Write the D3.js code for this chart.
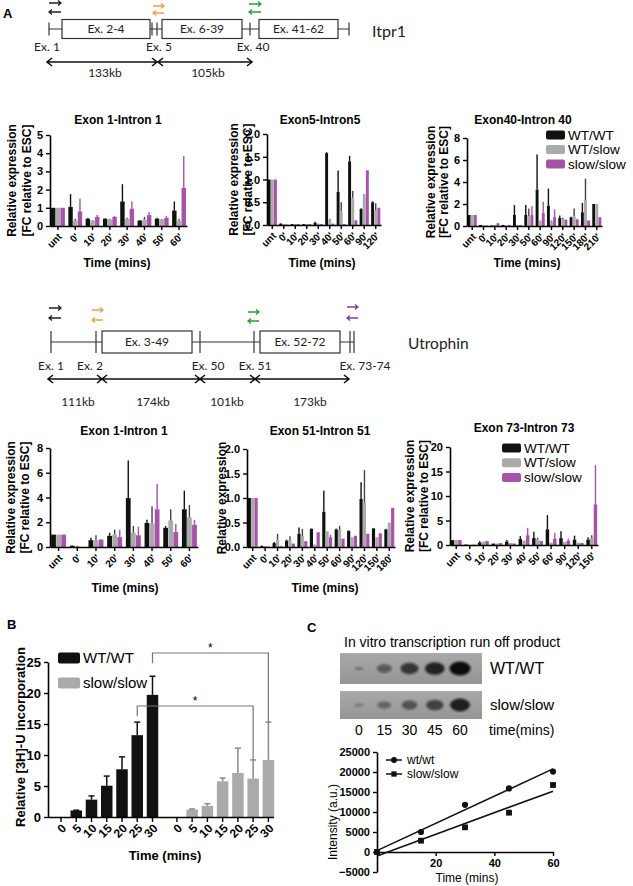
<!DOCTYPE html>
<html><head><meta charset="utf-8">
<script src="https://cdn.jsdelivr.net/npm/d3@7"></script>
<style>body{margin:0;background:#fff}svg{display:block}</style>
</head><body>
<script>
// ================= DATA =================
const seriesNames = ["WT/WT", "WT/slow", "slow/slow"];

// Panel A – Itpr1 (each entry: [mean, top of error bar])
const itprE1Cats = ["unt","0'","10'","20'","30'","40'","50'","60'"];
const itprE1WT   = [[1.0,1.0],[1.05,1.75],[0.4,0.45],[0.4,0.42],[1.35,2.3],[0.3,0.33],[0.4,0.45],[0.85,1.35]];
const itprE1WS   = [[1.0,1.0],[0.3,0.4],[0.3,0.33],[0.35,0.4],[0.4,0.45],[0.35,0.5],[0.35,0.38],[0.3,0.4]];
const itprE1SS   = [[1.0,1.0],[0.8,1.5],[0.5,0.6],[0.5,0.55],[0.95,1.35],[0.6,0.75],[0.45,0.55],[2.1,3.85]];

const itprE5Cats = ["unt","0'","10'","20'","30'","40'","50'","60'","90'","120'"];
const itprE5WT   = [[1.0,1.0],[0.03,0.04],[0.02,0.02],[0.02,0.02],[0.05,0.07],[1.58,1.6],[0.73,1.2],[1.4,1.52],[0.35,0.37],[0.5,0.52]];
const itprE5WS   = [[1.0,1.0],[0.02,0.02],[0.02,0.02],[0.02,0.02],[0.03,0.03],[0.12,0.14],[0.3,0.5],[0.6,0.75],[0.67,0.68],[0.33,0.48]];
const itprE5SS   = [[1.0,1.0],[0.01,0.01],[0.02,0.02],[0.02,0.02],[0.02,0.02],[0.03,0.03],[0.02,0.02],[0.1,0.11],[1.2,1.2],[0.38,0.38]];

const itprE40Cats = ["unt","0'","10'","20'","30'","50'","60'","90'","120'","150'","180'","210'"];
const itprE40WT   = [[1,1],[0.1,0.1],[0.05,0.05],[0.1,0.1],[1.0,1.9],[1.0,1.9],[3.3,6.5],[1.85,3.4],[0.75,0.95],[0.8,0.85],[1.25,2.1],[2.0,2.0]];
const itprE40WS   = [[1,1],[0.05,0.05],[0.1,0.1],[0.05,0.05],[0.1,0.1],[0.9,1.6],[0.5,0.5],[0.4,0.5],[0.6,0.75],[0.9,1.6],[2.35,4.3],[2.0,2.0]];
const itprE40SS   = [[1,1],[0.05,0.05],[0.25,0.3],[0.1,0.1],[0.1,0.1],[1.0,1.8],[1.2,2.2],[0.8,1.5],[0.55,0.6],[0.6,0.65],[0.5,0.5],[0.8,0.8]];

// Panel A – Utrophin
const utrE1Cats = ["unt","0'","10'","20'","30'","40'","50'","60'"];
const utrE1WT   = [[1,1],[0.1,0.15],[0.55,0.75],[0.9,1.15],[3.95,7.0],[1.95,2.2],[1.55,1.7],[3.05,4.55]];
const utrE1WS   = [[1,1],[0.05,0.1],[0.55,0.95],[1.0,1.4],[1.15,1.7],[1.9,3.3],[2.15,3.05],[2.4,3.4]];
const utrE1SS   = [[1,1],[0,0],[0.6,0.65],[0.8,1.4],[0.95,1.65],[3.05,5.1],[1.2,1.85],[1.8,2.2]];

const utrE51Cats = ["unt","0'","10'","20'","30'","40'","50'","60'","90'","120'","150'","180'"];
const utrE51WT   = [[1,1],[0.02,0.03],[0.08,0.1],[0.13,0.15],[0.27,0.4],[0.37,0.38],[0.72,1.15],[0.36,0.38],[0.33,0.34],[0.98,1.32],[0.38,0.39],[0.36,0.37]];
const utrE51WS   = [[1,1],[0.02,0.02],[0.15,0.27],[0.15,0.22],[0.22,0.37],[0.05,0.05],[0.32,0.32],[0.35,0.43],[0.2,0.2],[0.9,1.57],[0.2,0.2],[0.5,0.5]];
const utrE51SS   = [[1,1],[0.01,0.01],[0.02,0.02],[0.07,0.07],[0.12,0.12],[0.3,0.3],[0.2,0.25],[0.17,0.17],[0.23,0.23],[0.27,0.27],[0.28,0.28],[0.8,0.8]];

const utrE73Cats = ["unt","0'","10'","20'","30'","40'","50'","60'","90'","120'","150'"];
const utrE73WT   = [[1,1],[0.1,0.1],[0.5,0.8],[0.3,0.3],[0.7,1.0],[1.2,1.8],[1.4,2.7],[3.2,6.1],[1.4,2.8],[1.1,1.9],[1.1,1.6]];
const utrE73WS   = [[1,1],[0,0],[0.7,0.7],[0.3,0.3],[0.4,0.4],[0.9,0.9],[1.2,1.5],[0.5,0.5],[0.6,0.6],[0.5,0.5],[1.5,2.0]];
const utrE73SS   = [[1,1],[0.05,0.05],[0.8,0.8],[0.4,0.4],[0.3,0.3],[2.0,3.5],[0.8,0.8],[1.3,2.5],[0.9,1.3],[0.4,0.4],[8.3,16.3]];

// Panel B
const bTimes   = ["0","5","10","15","20","25","30"];
const bWT      = [0, 1.05, 2.8, 5.05, 7.7, 13.2, 19.7];
const bWTErr   = [0, 1.1, 3.4, 6.6, 9.7, 15.3, 22.7];
const bSlow    = [0, 1.2, 1.8, 5.75, 7.1, 6.2, 9.2];
const bSlowErr = [0, 1.3, 2.15, 6.3, 11.1, 9.2, 15.3];
const bYTicks  = [0, 5, 10, 15, 20, 25];

// Panel C
const cTimes   = [0, 15, 30, 45, 60];
const cWT      = [0, 5000, 11800, 15900, 20100];
const cSlow    = [0, 2830, 6170, 9830, 16750];
const cYTicks  = [-5000, 0, 5000, 10000, 15000, 20000, 25000];
const cXTicks  = [20, 40, 60];

// ================= RENDER =================
const F = "'Liberation Sans', Arial, Helvetica, sans-serif";
const FD = "Lato, 'Open Sans', sans-serif";
const svg = d3.select("body").append("svg").attr("width",633).attr("height",886)
  .style("font-family",F);

const barColors = ["#111111","#aaaaaa","#a653a8"];
const errColors = ["#111111","#444444","#a653a8"];

function styleAxis(sel, fs){
  sel.select(".domain").attr("stroke","#000").attr("stroke-width",1.6);
  sel.selectAll(".tick line").attr("stroke","#000").attr("stroke-width",1.4);
  sel.selectAll(".tick text").attr("fill","#000").style("font-size",fs+"px").style("font-weight","bold").style("font-family",F);
}

function barChart(o){
  const g = svg.append("g");
  const x = d3.scaleBand().domain(o.cats).range([o.x0,o.x1]).paddingInner(0.2).paddingOuter(0.06);
  const xs = d3.scaleBand().domain([0,1,2]).range([0,x.bandwidth()]).paddingInner(0.06);
  const y = d3.scaleLinear().domain([0,o.max]).range([o.yb,o.yt]);
  o.series.forEach((s,si)=>{
    g.append("g").selectAll("rect").data(s).join("rect")
      .attr("x",(d,i)=>x(o.cats[i])+xs(si)).attr("width",xs.bandwidth())
      .attr("y",d=>y(d[0])).attr("height",d=>y(0)-y(d[0])).attr("fill",barColors[si]);
    g.append("g").selectAll("line").data(s.map((d,i)=>({d,i})).filter(e=>e.d[1]>e.d[0])).join("line")
      .attr("x1",e=>x(o.cats[e.i])+xs(si)+xs.bandwidth()/2).attr("x2",e=>x(o.cats[e.i])+xs(si)+xs.bandwidth()/2)
      .attr("y1",e=>y(e.d[0])).attr("y2",e=>y(e.d[1]))
      .attr("stroke",errColors[si]).attr("stroke-width",1.4);
  });
  const ax = g.append("g").attr("transform",`translate(0,${o.yb})`)
    .call(d3.axisBottom(x).tickSize(4).tickSizeOuter(0));
  styleAxis(ax,10);
  ax.selectAll(".tick text").attr("y",0).attr("dy","0.35em")
    .attr("transform","translate(2,9) rotate(-45)").style("text-anchor","end");
  const ay = g.append("g").attr("transform",`translate(${o.x0},0)`)
    .call(d3.axisLeft(y).tickValues(o.ticks).tickSize(4).tickSizeOuter(0).tickFormat(o.fmt));
  styleAxis(ay,11);
  g.append("text").attr("x",o.tx).attr("y",o.ty).attr("text-anchor","middle")
    .style("font-size","12px").style("font-weight","bold").text(o.title);
  if(o.xlab) g.append("text").attr("x",o.xlab[0]).attr("y",o.xlab[1]).attr("text-anchor","middle")
    .style("font-size","12px").style("font-weight","bold").text("Time (mins)");
  const ymid = (o.yb+o.yt)/2;
  o.ylabs.forEach(([lx,txt])=>{
    g.append("text").attr("transform",`translate(${lx},${ymid}) rotate(-90)`).attr("text-anchor","middle")
      .attr("dy","0.35em").style("font-size","12px").style("font-weight","bold").text(txt);
  });
  if(o.legend){
    const [lx,ly,step] = o.legend;
    seriesNames.forEach((n,i)=>{
      g.append("rect").attr("x",lx).attr("y",ly+i*step-4.5).attr("width",19).attr("height",9)
        .attr("rx",2).attr("fill",barColors[i]);
      g.append("text").attr("x",lx+22).attr("y",ly+i*step).attr("dy","0.35em")
        .style("font-size","13.5px").text(n);
    });
  }
}

const YL1 = "Relative expression", YL2 = "[FC relative to ESC]";
barChart({cats:itprE1Cats, series:[itprE1WT,itprE1WS,itprE1SS], x0:50,x1:187,yb:226,yt:135,max:5,
  ticks:[0,1,2,3,4,5], fmt:d3.format("d"), title:"Exon 1-Intron 1", tx:118, ty:124,
  xlab:[117,267], ylabs:[[12,YL1],[27,YL2]]});
barChart({cats:itprE5Cats, series:[itprE5WT,itprE5WS,itprE5SS], x0:267,x1:381,yb:225,yt:134,max:2,
  ticks:[0,0.5,1,1.5,2], fmt:d3.format(".1f"), title:"Exon5-Intron5", tx:320, ty:124,
  xlab:[322,267], ylabs:[[234,YL1],[248,YL2]]});
barChart({cats:itprE40Cats, series:[itprE40WT,itprE40WS,itprE40SS], x0:467,x1:602,yb:226,yt:138,max:8,
  ticks:[0,2,4,6,8], fmt:d3.format("d"), title:"Exon40-Intron 40", tx:523, ty:124,
  xlab:[527,267], ylabs:[[431,YL1],[444,YL2]], legend:[546,135,14.5]});

barChart({cats:utrE1Cats, series:[utrE1WT,utrE1WS,utrE1SS], x0:50,x1:198,yb:547,yt:448,max:8,
  ticks:[0,2,4,6,8], fmt:d3.format("d"), title:"Exon 1-Intron 1", tx:124, ty:435,
  xlab:[125,592], ylabs:[[11,YL1],[25,YL2]]});
barChart({cats:utrE51Cats, series:[utrE51WT,utrE51WS,utrE51SS], x0:247,x1:395,yb:547,yt:449,max:2,
  ticks:[0,0.5,1,1.5,2], fmt:d3.format(".1f"), title:"Exon 51-Intron 51", tx:320, ty:435,
  xlab:[325,592], ylabs:[[222,YL1]]});
barChart({cats:utrE73Cats, series:[utrE73WT,utrE73WS,utrE73SS], x0:450,x1:598,yb:545,yt:447,max:20,
  ticks:[0,5,10,15,20], fmt:d3.format("d"), title:"Exon 73-Intron 73", tx:524, ty:432,
  xlab:null, ylabs:[[410,YL1],[424,YL2]], legend:[502,448,14.7]});

// ---------- Gene diagrams ----------
function primer(x1,x2,y1,y2,color){
  const g = svg.append("g").attr("stroke",color).attr("stroke-width",1.3).attr("fill","none");
  g.append("path").attr("d",`M${x1},${y1}H${x2}M${x2-3},${y1-2.5}L${x2},${y1}L${x2-3},${y1+2.5}`);
  g.append("path").attr("d",`M${x2},${y2}H${x1}M${x1+3},${y2-2.5}L${x1},${y2}L${x1+3},${y2+2.5}`);
}
function dblArrow(x1,x2,y){
  svg.append("path").attr("d",`M${x1},${y}H${x2}M${x1+5},${y-4}L${x1},${y}L${x1+5},${y+4}M${x2-5},${y-4}L${x2},${y}L${x2-5},${y+4}`)
    .attr("stroke","#111").attr("stroke-width",1.6).attr("fill","none");
}
function gene(d){
  const g = svg.append("g");
  g.append("line").attr("x1",d.start).attr("x2",d.end).attr("y1",d.y).attr("y2",d.y).attr("stroke","#333").attr("stroke-width",1.2);
  d.ticks.forEach(t=>g.append("line").attr("x1",t).attr("x2",t).attr("y1",d.y-d.th).attr("y2",d.y+d.th).attr("stroke","#333").attr("stroke-width",1.2));
  d.boxes.forEach(b=>{
    g.append("rect").attr("x",b[0]).attr("y",d.y-d.bh).attr("width",b[1]-b[0]).attr("height",2*d.bh)
      .attr("fill","#fff").attr("stroke","#333").attr("stroke-width",1.2);
    g.append("text").attr("x",(b[0]+b[1])/2).attr("y",d.y).attr("dy","0.36em").attr("text-anchor","middle")
      .style("font-family",FD).style("font-size","12px").attr("fill","#222").text(b[2]);
  });
  d.labels.forEach(l=>g.append("text").attr("x",l[0]).attr("y",d.labY).attr("text-anchor","middle")
      .style("font-family",FD).style("font-size","12px").attr("fill","#222").text(l[1]));
  d.kb.forEach(k=>{
    dblArrow(k[0],k[1],d.arrY);
    g.append("text").attr("x",k[2]).attr("y",d.kbY).attr("text-anchor","middle")
      .style("font-family",FD).style("font-size","12px").attr("fill","#222").text(k[3]);
  });
  d.primers.forEach(p=>primer(...p));
  g.append("text").attr("x",d.name[0]).attr("y",d.name[1]).style("font-family",FD).style("font-size",d.name[3])
    .attr("fill","#222").text(d.name[2]);
}

gene({start:49,end:349,y:29,th:6.5,bh:9.5,ticks:[49,152,157,250,349],
  boxes:[[62,150,"Ex. 2-4"],[162,242,"Ex. 6-39"],[259,338,"Ex. 41-62"]],
  labels:[[47,"Ex. 1"],[159,"Ex. 5"],[253,"Ex. 40"]], labY:51,
  arrY:62, kbY:77, kb:[[47,157,105,"133kb"],[158,252,208,"105kb"]],
  primers:[[49,61,3,12,"#222"],[153,164,6,13,"#f0a048"],[249,261,4,12,"#2f9a3c"]],
  name:[372,37,"Itpr1","16px"]});

gene({start:51,end:354,y:342,th:11,bh:11,ticks:[51,96,200,254,350,354],
  boxes:[[102,192,"Ex. 3-49"],[260,340,"Ex. 52-72"]],
  labels:[[51,"Ex. 1"],[90,"Ex. 2"],[208,"Ex. 50"],[255,"Ex. 51"],[365,"Ex. 73-74"]], labY:370,
  arrY:379, kbY:406, kb:[[48,102,78,"111kb"],[102,200,153,"174kb"],[200,255,227,"101kb"],[255,349,310,"173kb"]],
  primers:[[49,61,308,318,"#222"],[92,103,310,320,"#f0a048"],[248,259,312,321,"#2f9a3c"],[347,358,307,318,"#7d3f9e"]],
  name:[408,349,"Utrophin","15.5px"]});

// panel letters
[["A",3,18],["B",7,629],["C",307,632]].forEach(([t,x,y])=>
  svg.append("text").attr("x",x).attr("y",y).style("font-size","13px").style("font-weight","bold").text(t));

// ---------- Panel B ----------
{
  const g = svg.append("g");
  const pos = d3.scaleLinear().domain([0,13.6]).range([61,268.4]);
  const yB = d3.scaleLinear().domain([0,25]).range([817,662]);
  const bw = 11.5;
  const groups = [
    {vals:bWT, err:bWTErr, off:0, color:"#111111", ecol:"#111111"},
    {vals:bSlow, err:bSlowErr, off:7.6, color:"#aaaaaa", ecol:"#8a8a8a"}];
  groups.forEach(gr=>{
    g.append("g").selectAll("rect").data(gr.vals).join("rect")
      .attr("x",(d,i)=>pos(gr.off+i)-bw/2).attr("width",bw)
      .attr("y",d=>yB(d)).attr("height",d=>yB(0)-yB(d)).attr("fill",gr.color);
    const e = g.append("g").attr("stroke",gr.ecol).attr("stroke-width",1.5);
    e.selectAll("line.v").data(gr.err).join("line").attr("class","v")
      .attr("x1",(d,i)=>pos(gr.off+i)).attr("x2",(d,i)=>pos(gr.off+i))
      .attr("y1",(d,i)=>yB(gr.vals[i])).attr("y2",d=>yB(d));
    e.selectAll("line.c").data(gr.err.map((d,i)=>({d,i})).filter(o=>o.d>0)).join("line").attr("class","c")
      .attr("x1",o=>pos(gr.off+o.i)-3).attr("x2",o=>pos(gr.off+o.i)+3)
      .attr("y1",o=>yB(o.d)).attr("y2",o=>yB(o.d));
  });
  // x axis
  const xs = bTimes.map((t,i)=>({t,p:pos(i)})).concat(bTimes.map((t,i)=>({t,p:pos(7.6+i)})));
  g.append("line").attr("x1",48).attr("x2",pos(13.6)+bw/2).attr("y1",817.5).attr("y2",817.5).attr("stroke","#000").attr("stroke-width",1.6);
  g.selectAll("line.xt").data(xs).join("line").attr("class","xt").attr("x1",d=>d.p).attr("x2",d=>d.p)
    .attr("y1",817.5).attr("y2",822).attr("stroke","#000").attr("stroke-width",1.4);
  g.selectAll("text.xt").data(xs).join("text").attr("class","xt")
    .attr("transform",d=>`translate(${d.p+3},${826}) rotate(-45)`).attr("text-anchor","end").attr("dy","0.35em")
    .style("font-size","12px").style("font-weight","bold").text(d=>d.t);
  const ay = g.append("g").attr("transform","translate(48,0)")
    .call(d3.axisLeft(yB).tickValues(bYTicks).tickSize(4).tickSizeOuter(0));
  styleAxis(ay,13);
  g.append("text").attr("transform","translate(20,737) rotate(-90)").attr("text-anchor","middle").attr("dy","0.35em")
    .style("font-size","13px").style("font-weight","bold").text("Relative [3H]-U incorporation");
  g.append("text").attr("x",165).attr("y",860).attr("text-anchor","middle")
    .style("font-size","13px").style("font-weight","bold").text("Time (mins)");
  // legend
  [["WT/WT","#111111",658],["slow/slow","#aaaaaa",683]].forEach(([t,c,yy])=>{
    g.append("rect").attr("x",58).attr("y",yy-5.5).attr("width",22).attr("height",11).attr("rx",2).attr("fill",c);
    g.append("text").attr("x",83).attr("y",yy).attr("dy","0.35em").style("font-size","15px").text(t);
  });
  // significance brackets
  const br = g.append("g").attr("stroke","#777").attr("stroke-width",1.2).attr("fill","none");
  br.append("path").attr("d",`M${pos(6)},${yB(bWTErr[6])-13}V653H${pos(13.6)}V${yB(bSlowErr[6])}`);
  br.append("path").attr("d",`M${pos(5)},${yB(bWTErr[5])-6}V706H${pos(12.6)}V${yB(bSlowErr[5])}`);
  g.append("text").attr("x",(pos(6)+pos(13.6))/2).attr("y",652).attr("text-anchor","middle").style("font-size","12px").text("*");
  g.append("text").attr("x",(pos(5)+pos(12.6))/2).attr("y",705).attr("text-anchor","middle").style("font-size","12px").text("*");
}

// ---------- Panel C ----------
{
  const g = svg.append("g");
  g.append("text").attr("x",344).attr("y",647).style("font-size","14px").text("In vitro transcription run off product");
  const defs = svg.append("defs");
  defs.append("filter").attr("id","blur").append("feGaussianBlur").attr("stdDeviation",1.3);
  const gr = defs.append("linearGradient").attr("id","gel").attr("x1",0).attr("x2",0).attr("y1",0).attr("y2",1);
  gr.append("stop").attr("offset",0).attr("stop-color","#a9a9a9");
  gr.append("stop").attr("offset",1).attr("stop-color","#959595");
  const lane = d3.scalePoint().domain(cTimes).range([359,460]);
  const rx = d3.scaleSqrt().domain([0,20100]).range([4.5,10.5]);
  const ry = d3.scaleSqrt().domain([0,20100]).range([1.3,7]);
  const op = d3.scaleLinear().domain([0,20100]).range([0.35,1]);
  [[cWT,653,684,"WT/WT"],[cSlow,691,719,"slow/slow"]].forEach(([vals,y0,y1,lab])=>{
    g.append("rect").attr("x",340).attr("y",y0).attr("width",142).attr("height",y1-y0).attr("fill","url(#gel)");
    g.append("g").attr("filter","url(#blur)").selectAll("ellipse").data(vals).join("ellipse")
      .attr("cx",(d,i)=>lane(cTimes[i])).attr("cy",(y0+y1)/2).attr("rx",d=>rx(d)).attr("ry",d=>ry(d))
      .attr("fill","#111").attr("opacity",d=>op(d));
    g.append("text").attr("x",490).attr("y",(y0+y1)/2).attr("dy","0.35em").style("font-size",lab==="WT/WT"?"16px":"15px").text(lab);
  });
  g.selectAll("text.lane").data(cTimes).join("text").attr("class","lane")
    .attr("x",d=>lane(d)).attr("y",735).attr("text-anchor","middle").style("font-size","14px").text(d=>d);
  g.append("text").attr("x",489).attr("y",735).style("font-size","14px").text("time(mins)");

  const x = d3.scaleLinear().domain([0,60]).range([377,553]);
  const y = d3.scaleLinear().domain([-5000,25000]).range([872,752]);
  const ax = g.append("g").attr("transform",`translate(0,${y(0)})`)
    .call(d3.axisBottom(x).tickValues(cXTicks).tickSize(4).tickSizeOuter(0));
  styleAxis(ax,11);
  const ay = g.append("g").attr("transform",`translate(${x(0)},0)`)
    .call(d3.axisLeft(y).tickValues(cYTicks).tickSize(4).tickSizeOuter(0).tickFormat(d3.format("d")));
  styleAxis(ay,11);
  g.append("text").attr("x",467).attr("y",882).attr("text-anchor","middle").style("font-size","12px").text("Time (mins)");
  g.append("text").attr("transform",`translate(333,822) rotate(-90)`).attr("text-anchor","middle").attr("dy","0.35em")
    .style("font-size","12px").text("Intensity (a.u.)");
  // least-squares fit lines
  function fit(xs, ys){
    const mx=d3.mean(xs), my=d3.mean(ys);
    const b=d3.sum(xs,(v,i)=>(v-mx)*(ys[i]-my))/d3.sum(xs,v=>(v-mx)**2);
    return [b, my-b*mx];
  }
  [[cWT,"circle"],[cSlow,"square"]].forEach(([vals,shape])=>{
    const [b,a] = fit(cTimes, vals);
    g.append("line").attr("x1",x(0)).attr("x2",x(60)).attr("y1",y(a)).attr("y2",y(a+b*60))
      .attr("stroke","#111").attr("stroke-width",1.6);
    const sym = d3.symbol().type(shape==="circle"?d3.symbolCircle:d3.symbolSquare).size(shape==="circle"?30:34);
    g.append("g").selectAll("path").data(vals).join("path")
      .attr("transform",(d,i)=>`translate(${x(cTimes[i])},${y(d)})`).attr("d",sym).attr("fill","#111");
  });
  // legend
  [["wt/wt",d3.symbolCircle,760],["slow/slow",d3.symbolSquare,774]].forEach(([t,s,yy])=>{
    g.append("line").attr("x1",386).attr("x2",402).attr("y1",yy).attr("y2",yy).attr("stroke","#111").attr("stroke-width",1.5);
    g.append("path").attr("transform",`translate(394,${yy})`).attr("d",d3.symbol().type(s).size(28)).attr("fill","#111");
    g.append("text").attr("x",407).attr("y",yy).attr("dy","0.35em").style("font-size","12px").text(t);
  });
}
</script>
</body></html>
